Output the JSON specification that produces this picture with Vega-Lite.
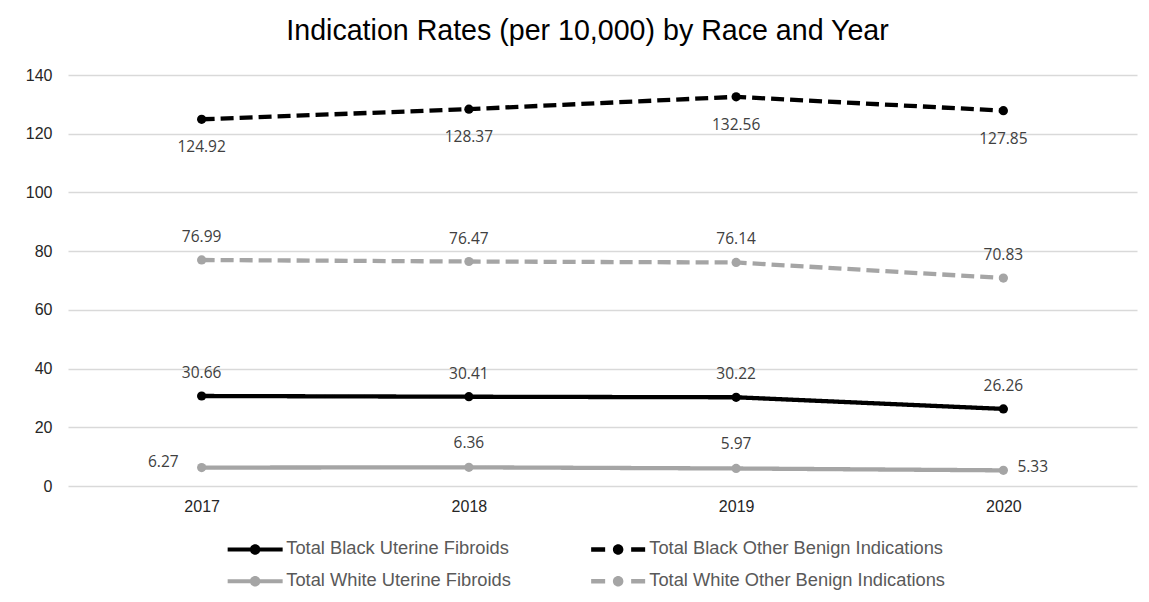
{
  "$schema": "https://vega.github.io/schema/vega-lite/v6.json",
  "width": 1069,
  "height": 411,
  "autosize": {"type": "none"},
  "padding": {"left": 68, "top": 75, "right": 12, "bottom": 116},
  "background": "white",
  "title": {
    "text": "Indication Rates (per 10,000) by Race and Year",
    "font": "Liberation Sans",
    "fontSize": 28.6,
    "fontWeight": "normal",
    "color": "#000000",
    "anchor": "middle",
    "dx": -15,
    "offset": 21
  },
  "config": {
    "view": {"stroke": null},
    "axis": {"labelFont": "Liberation Sans", "labelFontSize": 16, "labelColor": "#262626", "ticks": false, "domain": false, "title": null},
    "legend": {"labelFont": "Liberation Sans", "labelFontSize": 18.3, "labelColor": "#595959"}
  },
  "data": {
    "values": [
      {"year": "2017", "series": "Total Black Uterine Fibroids", "rate": 30.66},
      {"year": "2018", "series": "Total Black Uterine Fibroids", "rate": 30.41},
      {"year": "2019", "series": "Total Black Uterine Fibroids", "rate": 30.22},
      {"year": "2020", "series": "Total Black Uterine Fibroids", "rate": 26.26},
      {"year": "2017", "series": "Total Black Other Benign Indications", "rate": 124.92},
      {"year": "2018", "series": "Total Black Other Benign Indications", "rate": 128.37},
      {"year": "2019", "series": "Total Black Other Benign Indications", "rate": 132.56},
      {"year": "2020", "series": "Total Black Other Benign Indications", "rate": 127.85},
      {"year": "2017", "series": "Total White Uterine Fibroids", "rate": 6.27},
      {"year": "2018", "series": "Total White Uterine Fibroids", "rate": 6.36},
      {"year": "2019", "series": "Total White Uterine Fibroids", "rate": 5.97},
      {"year": "2020", "series": "Total White Uterine Fibroids", "rate": 5.33},
      {"year": "2017", "series": "Total White Other Benign Indications", "rate": 76.99},
      {"year": "2018", "series": "Total White Other Benign Indications", "rate": 76.47},
      {"year": "2019", "series": "Total White Other Benign Indications", "rate": 76.14},
      {"year": "2020", "series": "Total White Other Benign Indications", "rate": 70.83}
    ]
  },
  "encoding": {
    "x": {
      "field": "year", "type": "ordinal",
      "scale": {"type": "point", "padding": 0.5},
      "axis": {"labelAngle": 0, "labelPadding": 12, "grid": false}
    },
    "y": {
      "field": "rate", "type": "quantitative",
      "scale": {"domain": [0, 140], "nice": false},
      "axis": {"values": [0, 20, 40, 60, 80, 100, 120, 140], "grid": true, "gridColor": "#d9d9d9", "gridWidth": 1.3, "labelPadding": 16}
    }
  },
  "layer": [
    {
      "mark": {"type": "line", "strokeWidth": 4.3, "strokeCap": "butt"},
      "encoding": {
        "color": {
          "field": "series", "type": "nominal",
          "scale": {
            "domain": ["Total Black Uterine Fibroids", "Total Black Other Benign Indications", "Total White Uterine Fibroids", "Total White Other Benign Indications"],
            "range": ["#000000", "#000000", "#A5A5A5", "#A5A5A5"]
          },
          "legend": {
            "title": null,
            "orient": "none",
            "direction": "horizontal",
            "legendX": 178,
            "legendY": 465,
            "columns": 2,
            "columnPadding": 80,
            "rowPadding": 13,
            "padding": 0,
            "symbolSize": 100,
            "labelOffset": 22,
            "labelLimit": 400,
            "encode": {
              "symbols": {
                "update": {
                  "shape": {"signal": "indexof(datum.value, 'Other') >= 0 ? 'M-5.4,-0.45L-2.6,-0.45L-2.6,0.45L-5.4,0.45Z M2.6,-0.45L5.4,-0.45L5.4,0.45L2.6,0.45Z M1.05,0A1.05,1.05,0,1,1,-1.05,0A1.05,1.05,0,1,1,1.05,0Z' : 'M-5.5,-0.4L5.5,-0.4L5.5,0.4L-5.5,0.4Z M1.05,0A1.05,1.05,0,1,1,-1.05,0A1.05,1.05,0,1,1,1.05,0Z'"},
                  "fill": {"scale": "color", "field": "value"},
                  "strokeWidth": {"value": 0},
                  "opacity": {"value": 1}
                }
              }
            }
          }
        },
        "strokeDash": {
          "field": "series", "type": "nominal",
          "scale": {
            "domain": ["Total Black Uterine Fibroids", "Total Black Other Benign Indications", "Total White Uterine Fibroids", "Total White Other Benign Indications"],
            "range": [[1, 0], [13, 6], [1, 0], [13, 6]]
          },
          "legend": null
        }
      }
    },
    {
      "mark": {"type": "point", "filled": true, "size": 85, "opacity": 1},
      "encoding": {
        "color": {"field": "series", "type": "nominal"}
      }
    },
    {
      "transform": [{"filter": "datum.series === 'Total Black Other Benign Indications'"}],
      "mark": {"type": "text", "font": "Open Sans", "fontSize": 15.5, "color": "#404040", "baseline": "middle", "dy": 28},
      "encoding": {"text": {"field": "rate", "type": "quantitative", "format": ".2f"}}
    },
    {
      "transform": [{"filter": "datum.series === 'Total White Other Benign Indications' || datum.series === 'Total Black Uterine Fibroids'"}],
      "mark": {"type": "text", "font": "Open Sans", "fontSize": 15.5, "color": "#404040", "baseline": "middle", "dy": -23},
      "encoding": {"text": {"field": "rate", "type": "quantitative", "format": ".2f"}}
    },
    {
      "transform": [{"filter": "datum.series === 'Total White Uterine Fibroids' && (datum.year === '2018' || datum.year === '2019')"}],
      "mark": {"type": "text", "font": "Open Sans", "fontSize": 15.5, "color": "#404040", "baseline": "middle", "dy": -24},
      "encoding": {"text": {"field": "rate", "type": "quantitative", "format": ".2f"}}
    },
    {
      "transform": [{"filter": "datum.series === 'Total White Uterine Fibroids' && datum.year === '2017'"}],
      "mark": {"type": "text", "font": "Open Sans", "fontSize": 15.5, "color": "#404040", "baseline": "middle", "align": "right", "dx": -23, "dy": -6},
      "encoding": {"text": {"field": "rate", "type": "quantitative", "format": ".2f"}}
    },
    {
      "transform": [{"filter": "datum.series === 'Total White Uterine Fibroids' && datum.year === '2020'"}],
      "mark": {"type": "text", "font": "Open Sans", "fontSize": 15.5, "color": "#404040", "baseline": "middle", "align": "left", "dx": 14, "dy": -3},
      "encoding": {"text": {"field": "rate", "type": "quantitative", "format": ".2f"}}
    }
  ]
}
